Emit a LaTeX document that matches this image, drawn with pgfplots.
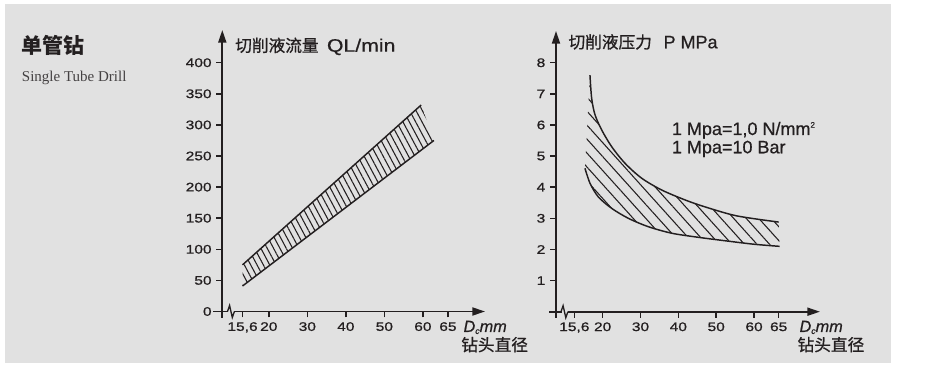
\documentclass[border=0pt]{standalone}
\usepackage{pgfplots}
\pgfplotsset{compat=1.18}
\usepgfplotslibrary{fillbetween}
\usetikzlibrary{patterns.meta,arrows.meta}
\usepackage{fontspec}
\setmainfont{Liberation Sans}[FakeBold=0.6]
\newfontfamily\cjk{Noto Sans CJK SC}[FakeBold=0.8]
\newfontfamily\cjkb{Noto Sans CJK SC}
\newfontfamily\tickf{Liberation Sans}[FakeStretch=1.25,FakeBold=0.9]
\newfontfamily\titf{Liberation Sans}[FakeStretch=1.18,FakeBold=0.6]
\newfontfamily\serf{Liberation Serif}
\definecolor{ink}{HTML}{231F20}
\definecolor{panel}{HTML}{E1E1E1}

\newcommand\brktrafo[2]{%
  \begingroup
  \pgfkeys{/pgf/fpu=true}\pgfmathparse{#1}\pgfmathfloattofixed{\pgfmathresult}\let\mytv\pgfmathresult
  \pgfkeys{/pgf/fpu=false}%
  \pgfmathparse{(\mytv<20)*(20-(20-\mytv)*#2)+(\mytv>=20)*(\mytv<=60)*(\mytv)+(\mytv>60)*(60+(\mytv-60)*1.3)}%
  \global\let\trafores\pgfmathresult
  \endgroup
  \let\pgfmathresult\trafores}

\pgfplotsset{
  drill/.style={
    scale only axis, anchor=south west, clip=false,
    axis lines=left,
    axis line style={line width=1.4pt, draw=ink, -{Triangle[length=9.5pt,width=6pt]}},
    tick align=outside, major tick length=4.5pt,
    tick style={line width=1.1pt, draw=ink},
    tick label style={font=\tickf\fontsize{9.3}{9.3}\selectfont, text=ink},
    xtick={15.6,20,30,40,50,60,65},
    xticklabels={{15,6},20,30,40,50,60,65},
  },
}

\begin{document}
\pagecolor{panel}%
\begin{tikzpicture}
\begin{scope}[x=0.75pt,y=-0.75pt]
  \path[use as bounding box] (0,0) rectangle (940,366);
  \fill[white] (0,0) rectangle (940,4);
  \fill[white] (0,0) rectangle (5,366);
  \fill[white] (891,0) rectangle (940,366);
  \fill[white] (0,363) rectangle (940,366);
\end{scope}

% ---------- left: coolant flow ----------
\begin{axis}[drill,
  at={(166.725pt,-233.625pt)}, width=197.025pt, height=211.125pt,
  x coord trafo/.code={\brktrafo{#1}{1.55}},
  xmin=12.21, xmax=72.4, ymin=0, ymax=452.6,
  ytick={0,50,100,150,200,250,300,350,400},
  yticklabels={0,50,100,150,200,250,300,350,400},
]
\addplot[name path=LU, line width=1.1pt, ink] coordinates {(15.6,75) (59.55,332)};
\addplot[name path=LL, line width=1.1pt, ink] coordinates {(15.6,41) (62.2,275)};
\addplot[draw=none, pattern={Lines[angle=-62,distance=4.2pt,line width=0.8pt]}, pattern color=ink]
  fill between[of=LU and LL];
\end{axis}

% ---------- right: coolant pressure ----------
\begin{axis}[drill,
  at={(417pt,-233.775pt)}, width=198pt, height=210.525pt,
  x coord trafo/.code={\brktrafo{#1}{1.70}},
  xmin=12.75, xmax=73.4, ymin=0, ymax=9.02,
  ytick={1,2,3,4,5,6,7,8},
  yticklabels={1,2,3,4,5,6,7,8},
]
\addplot[name path=RU, line width=1.1pt, ink, smooth] coordinates {
  (18.03,7.6) (18.29,6.86) (18.81,6.33) (19.85,5.84) (22.4,5.3) (25.9,4.77) (30.3,4.29)
  (35.6,3.91) (41.8,3.59) (47,3.37) (55.4,3.08) (65,2.88)};
\addplot[name path=RL, line width=1.1pt, ink, smooth] coordinates {
  (17.25,4.61) (18.03,4.13) (19.32,3.69) (22.4,3.32) (26.8,3.0) (32.1,2.73) (38.3,2.52)
  (45.3,2.39) (51,2.3) (59.8,2.17) (65.2,2.1)};
\addplot[draw=none, pattern={Lines[angle=-48,distance=7pt,line width=0.8pt]}, pattern color=ink]
  fill between[of=RU and RL];
\end{axis}

\begin{scope}[x=0.75pt,y=-0.75pt]
  % axis overhangs and breaks
  \draw[ink, line width=1.4pt] (213,311.5) -- (222.3,311.5);
  \draw[ink, line width=1.4pt] (222.3,311.5) -- (222.3,317.7);
  \draw[panel, line width=2.5pt] (228,311.5) -- (234,311.5);
  \draw[ink, line width=1pt, line join=miter] (227.5,311.5) -- (229.6,305.5) -- (232.3,317.5) -- (234.4,311.5);
  \draw[ink, line width=1.4pt] (549.3,311.7) -- (556,311.7);
  \draw[ink, line width=1.4pt] (556,311.7) -- (556,318);
  \draw[panel, line width=2.5pt] (561.5,311.7) -- (567.5,311.7);
  \draw[ink, line width=1pt, line join=miter] (561,311.7) -- (563.1,305.7) -- (565.8,317.7) -- (567.9,311.7);

  % headings
  \node[anchor=base west, inner sep=0, text=ink] at (21.7,54) {\cjkb\bfseries\fontsize{15.75}{16}\selectfont 单管钻};
  \node[anchor=base west, inner sep=0, text=ink!85] at (21.7,81.7) {\serf\fontsize{11.25}{12}\selectfont Single Tube Drill};

  \node[anchor=base west, inner sep=0, text=ink] at (235,51.7) {\cjk\fontsize{12.5}{13}\selectfont 切削液流量};
  \node[anchor=base west, inner sep=0, text=ink] at (326.7,51.7) {\titf\fontsize{13.5}{14}\selectfont QL/min};
  \node[anchor=base west, inner sep=0, text=ink] at (568.3,48.3) {\cjk\fontsize{12.5}{13}\selectfont 切削液压力};
  \node[anchor=base west, inner sep=0, text=ink] at (663.3,48.3) {\fontsize{13.5}{14}\selectfont P MPa};

  \node[anchor=base west, inner sep=0, text=ink] at (671.7,135) {\fontsize{13.5}{14}\selectfont 1 Mpa=1,0 N/mm\raisebox{5.5pt}{\fontsize{6}{6}\selectfont 2}};
  \node[anchor=base west, inner sep=0, text=ink] at (671.7,153.3) {\fontsize{13.5}{14}\selectfont 1 Mpa=10 Bar};

  % x axis labels
  \node[anchor=base west, inner sep=0, text=ink] at (463.3,332) {\fontsize{12.2}{13}\selectfont\itshape D\raisebox{-1.5pt}{\fontsize{6.5}{7}\selectfont c}mm};
  \node[anchor=base west, inner sep=0, text=ink] at (461,351) {\cjk\fontsize{12.5}{13}\selectfont 钻头直径};
  \node[anchor=base west, inner sep=0, text=ink] at (799.3,332) {\fontsize{12.2}{13}\selectfont\itshape D\raisebox{-1.5pt}{\fontsize{6.5}{7}\selectfont c}mm};
  \node[anchor=base west, inner sep=0, text=ink] at (797.3,351) {\cjk\fontsize{12.5}{13}\selectfont 钻头直径};
\end{scope}
\end{tikzpicture}
\end{document}
